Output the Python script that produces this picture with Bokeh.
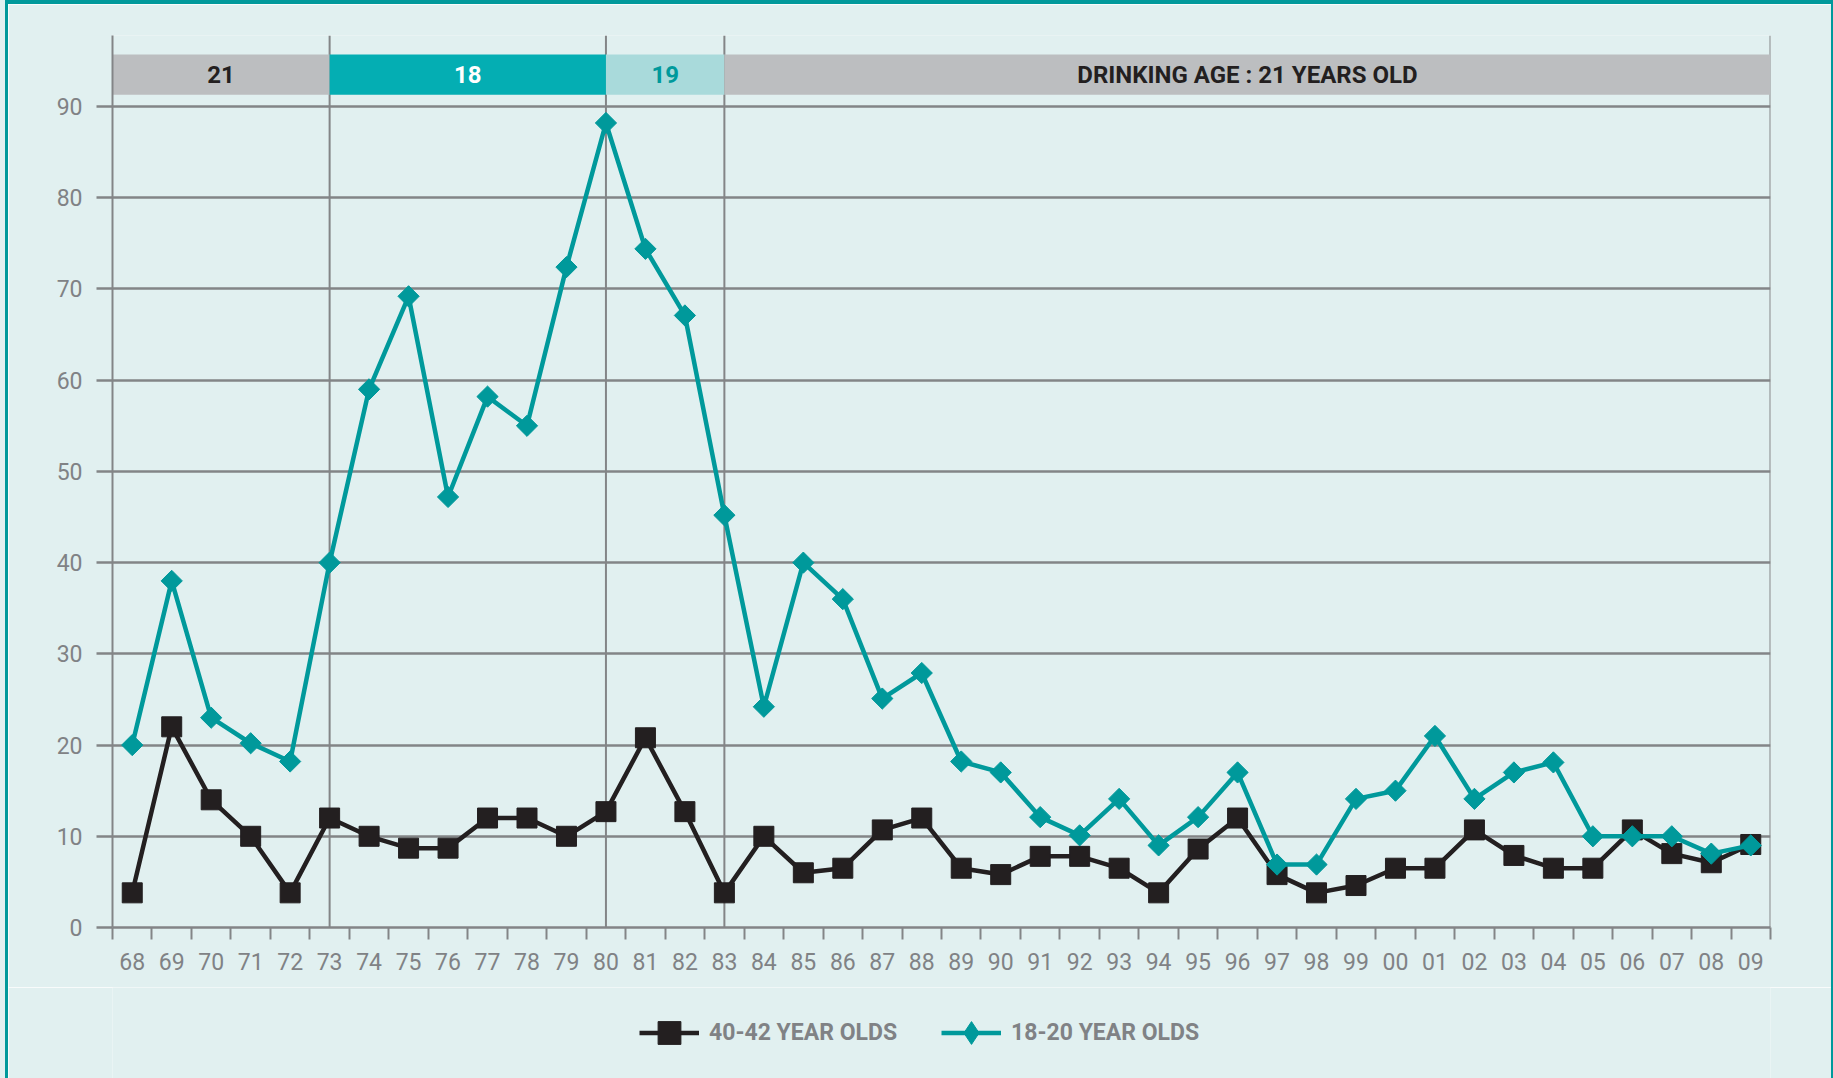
import numpy as np
from bokeh.plotting import figure
from bokeh.layouts import column
from bokeh.models import Range1d, FixedTicker, Span, Legend, LegendItem
from bokeh.core.properties import value
from bokeh.embed import file_html
from bokeh.resources import INLINE

# ---------------- data ----------------
years = ["68", "69", "70", "71", "72", "73", "74", "75", "76", "77", "78", "79",
         "80", "81", "82", "83", "84", "85", "86", "87", "88", "89", "90", "91",
         "92", "93", "94", "95", "96", "97", "98", "99", "00", "01", "02", "03",
         "04", "05", "06", "07", "08", "09"]

teen_18_20 = [20, 38, 23, 20.2, 18.2, 40, 59, 69.2, 47.2, 58.2, 55, 72.4,
              88.2, 74.4, 67.1, 45.2, 24.2, 40, 36, 25.1, 27.9, 18.2, 17, 12.1,
              10.1, 14.1, 9, 12.1, 17, 6.9, 6.9, 14.1, 15, 21, 14.1, 17,
              18.1, 10, 10, 10, 8.1, 9]

adult_40_42 = [3.8, 22, 14, 10, 3.8, 12, 10, 8.7, 8.7, 12, 12, 10,
               12.7, 20.8, 12.7, 3.8, 10, 6, 6.5, 10.7, 12, 6.5, 5.8, 7.8,
               7.8, 6.5, 3.8, 8.6, 12, 5.8, 3.8, 4.6, 6.5, 6.5, 10.7, 7.9,
               6.5, 6.5, 10.7, 8.1, 7.1, 9.1]

period_labels = ["21", "18", "19", "DRINKING AGE : 21 YEARS OLD"]
period_change_years = ["73", "80", "83"]

y_ticks = [0, 10, 20, 30, 40, 50, 60, 70, 80, 90]

series_labels = ["40-42 YEAR OLDS", "18-20 YEAR OLDS"]

# ---------------- styles ----------------
FONT = "Roboto"
BG = "#e1f0f0"
GRID = "#838587"
LABEL = "#808285"
BLACK = "#231f20"
TEAL = "#00999b"
period_fill = ["#bcbec0", "#04aeb3", "#a9dadb", "#bcbec0"]
period_text = [BLACK, "#ffffff", TEAL, BLACK]

n = len(years)
x = np.arange(n) + 0.5

# ---------------- main chart ----------------
p = figure(width=1823, height=983,
           x_range=Range1d(0, n), y_range=Range1d(0, 97.79),
           output_backend="svg", toolbar_location=None,
           min_border_left=104, min_border_right=61,
           min_border_top=31, min_border_bottom=60)
p.background_fill_color = BG
p.border_fill_color = BG
p.outline_line_color = None

p.xaxis.ticker = FixedTicker(ticks=list(x), minor_ticks=list(range(n + 1)))
p.xaxis.major_label_overrides = {float(xi): lab for xi, lab in zip(x, years)}
p.xaxis.axis_line_color = GRID
p.xaxis.axis_line_width = 2.5
p.xaxis.major_tick_line_color = None
p.xaxis.major_tick_out = 12
p.xaxis.major_tick_in = 0
p.xaxis.minor_tick_line_color = GRID
p.xaxis.minor_tick_line_width = 2
p.xaxis.minor_tick_out = 12
p.xaxis.minor_tick_in = 0
p.xaxis.major_label_standoff = 13

p.yaxis.ticker = FixedTicker(ticks=y_ticks)
p.yaxis.axis_line_color = GRID
p.yaxis.axis_line_width = 2
p.yaxis.major_tick_line_color = GRID
p.yaxis.major_tick_line_width = 2.5
p.yaxis.major_tick_out = 16
p.yaxis.major_tick_in = 0
p.yaxis.minor_tick_line_color = None
p.yaxis.major_label_standoff = 14

for ax in (p.xaxis, p.yaxis):
    ax.major_label_text_font = FONT
    ax.major_label_text_font_size = "23px"
    ax.major_label_text_color = LABEL

p.xgrid.visible = False
p.ygrid.ticker = FixedTicker(ticks=y_ticks)
p.ygrid.grid_line_color = GRID
p.ygrid.grid_line_width = 2.5

# vertical separators for drinking-age changes + right edge
bounds = [0.0] + [years.index(yr) + 0.5 for yr in period_change_years] + [float(n)]
for b in bounds[1:]:
    p.add_layout(Span(location=b, dimension="height", line_color=GRID,
                      line_width=2, level="underlay"))

# banner of drinking-age periods
p.quad(left=bounds[:-1], right=bounds[1:], bottom=91.3, top=95.7,
       fill_color=period_fill, line_color=None)
centers = [(a + b) / 2 for a, b in zip(bounds[:-1], bounds[1:])]
p.text(x=centers, y=[93.5] * len(centers), text=period_labels,
       text_color=period_text, text_align="center", text_baseline="middle",
       text_font=value(FONT), text_font_style="bold", text_font_size="24px")

# series
p.line(x, adult_40_42, line_color=BLACK, line_width=4.5)
p.scatter(x, adult_40_42, marker="square", size=20,
          fill_color=BLACK, line_color=BLACK)
p.line(x, teen_18_20, line_color=TEAL, line_width=4.5)
p.scatter(x, teen_18_20, marker="square", angle=np.pi / 4, size=15,
          fill_color=TEAL, line_color=TEAL)

# ---------------- legend strip ----------------
# same series drawn in a strip whose ranges keep them out of view;
# they only serve as legend glyph sources
lg = figure(width=1823, height=91, x_range=Range1d(0, 1), y_range=Range1d(-2, -1),
            x_axis_type=None, y_axis_type=None,
            output_backend="svg", toolbar_location=None,
            min_border_left=104, min_border_right=61,
            min_border_top=0, min_border_bottom=0)
lg.background_fill_color = BG
lg.border_fill_color = BG
lg.outline_line_color = None
lg.grid.visible = False

a_line = lg.line(x, adult_40_42, line_color=BLACK, line_width=4.5)
a_mark = lg.scatter(x, adult_40_42, marker="square", fill_color=BLACK, line_color=BLACK)
t_line = lg.line(x, teen_18_20, line_color=TEAL, line_width=4.5)
t_mark = lg.scatter(x, teen_18_20, marker="diamond", fill_color=TEAL, line_color=TEAL)

legend = Legend(items=[LegendItem(label=series_labels[0], renderers=[a_line, a_mark]),
                       LegendItem(label=series_labels[1], renderers=[t_line, t_mark])],
                location=(527, 17), orientation="horizontal",
                background_fill_alpha=0, border_line_color=None,
                padding=0, margin=0, spacing=44, label_standoff=10,
                glyph_width=60, glyph_height=57,
                label_text_font=FONT, label_text_font_style="bold",
                label_text_font_size="23px", label_text_color=LABEL)
lg.add_layout(legend)

layout = column(p, lg, spacing=0)
layout.styles = {"margin-left": "5px",
                 "box-shadow": "-5px 0 0 0 " + BG,
                 "border-top": "4px solid " + TEAL,
                 "border-left": "3px solid " + TEAL,
                 "border-right": "2px solid " + TEAL}

open("out.html", "w").write(file_html(layout, INLINE))
